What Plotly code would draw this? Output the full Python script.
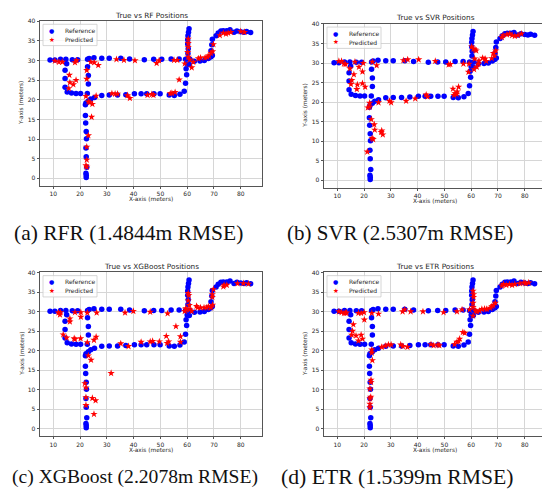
import plotly.graph_objects as go

# the page adds an 8 px body margin, so the figure is 8 px smaller and all
# pixel positions below are given in page pixels and shifted by OFF
OFF = 8
W, H = 550 - OFF, 497 - OFF

# ---------------- data ----------------
ref_x = [8.8, 10.6, 12.7, 14.7, 17.1, 19.1, 15.0, 14.4, 14.4, 14.4, 15.2, 16.8, 18.5, 20.2,
         22.8, 23.4, 22.8, 23.1, 23.1, 22.7, 22.0, 22.2, 22.0, 22.1, 22.3, 22.4, 22.2, 22.3,
         22.5, 22.2, 22.3, 22.3, 23.1, 24.0, 25.4, 28.1, 30.9, 34.0, 37.1, 40.3, 42.8, 44.9,
         47.6, 49.9, 53.3, 55.2, 57.3, 58.9, 59.4, 59.8, 59.6, 60.0, 25.2, 28.1, 30.9, 35.2,
         38.5, 44.0, 47.5, 50.5, 54.0, 57.0, 59.4, 60.7, 60.5, 60.3, 60.2, 60.2, 60.4, 60.3,
         61.0, 60.8, 62.7, 64.8, 66.4, 67.9, 68.8, 69.4, 68.9, 69.2, 69.4, 70.8, 71.6, 72.6,
         73.5, 74.8, 76.0, 77.5, 78.6, 80.0, 81.2, 82.2, 83.7]
ref_y = [30.1, 30.1, 30.3, 30.3, 30.2, 30.2, 29.2, 27.5, 25.4, 23.2, 22.0, 21.7, 21.6, 21.6,
         30.3, 30.5, 28.4, 26.2, 24.0, 21.6, 18.7, 19.2, 16.0, 14.1, 11.9, 10.1, 7.7, 5.5,
         2.8, 1.3, 0.8, 0.2, 19.7, 20.2, 20.6, 21.1, 21.2, 21.2, 21.3, 21.5, 21.5, 21.5,
         21.5, 21.5, 21.2, 21.1, 21.4, 22.2, 24.2, 26.4, 27.9, 29.1, 30.7, 30.6, 30.6, 30.6,
         30.4, 30.2, 30.3, 30.3, 30.4, 30.4, 30.3, 38.1, 37.2, 36.3, 35.3, 34.2, 33.0, 31.8,
         30.3, 29.0, 29.8, 29.9, 30.0, 30.5, 30.9, 31.3, 32.5, 34.0, 35.4, 36.3, 37.0, 37.5,
         37.6, 37.6, 37.8, 37.2, 37.5, 37.3, 37.2, 37.4, 37.1]

rf_x = [10.6, 12.1, 13.4, 18.1, 18.7, 16.0, 16.2, 15.8, 17.5, 18.5, 22.5, 22.5, 22.2, 24.0,
        25.3, 26.8, 23.1, 23.7, 24.6, 24.3, 23.1, 22.5, 22.5, 22.2, 22.5, 26.0, 31.9, 33.1,
        34.0, 37.7, 38.6, 45.2, 46.8, 47.4, 53.7, 54.3, 55.5, 57.0, 59.1, 33.6, 36.4, 40.5,
        48.6, 49.5, 55.1, 56.3, 60.4, 60.4, 60.4, 60.2, 60.4, 61.0, 61.7, 62.3, 64.2, 65.0,
        66.7, 67.5, 68.1, 68.9, 69.5, 69.8, 72.2, 73.5, 74.5, 75.3, 76.3, 80.0, 81.4]
rf_y = [29.9, 29.6, 29.6, 29.5, 30.0, 26.3, 24.4, 22.9, 23.9, 25.0, 27.5, 25.3, 20.9, 29.6,
        29.5, 28.8, 19.5, 19.3, 18.9, 15.6, 10.9, 8.0, 4.7, 3.3, 2.9, 21.0, 21.6, 21.5,
        21.5, 21.1, 20.4, 21.2, 21.4, 21.2, 21.6, 21.7, 21.9, 25.1, 29.2, 30.3, 30.1, 30.0,
        29.3, 30.0, 30.1, 30.1, 35.5, 34.4, 33.4, 32.1, 30.9, 30.2, 28.2, 29.6, 30.5, 30.7,
        30.7, 30.9, 31.2, 31.9, 32.3, 34.1, 36.4, 37.0, 36.8, 37.0, 37.2, 37.4, 37.2]

svr_x = [10.6, 11.6, 12.5, 13.1, 14.7, 16.2, 15.4, 15.1, 17.5, 17.3, 19.4, 20.4, 18.1, 19.4,
         16.6, 19.7, 23.1, 24.7, 21.4, 22.1, 22.1, 22.7, 23.8, 24.0, 23.0, 23.4, 21.2, 26.6,
         27.0, 26.4, 25.4, 29.5, 30.1, 35.7, 39.1, 43.2, 43.7, 53.2, 55.3, 54.0, 53.6, 54.6,
         54.8, 34.7, 36.3, 40.4, 46.6, 51.6, 52.2, 57.1, 59.0, 59.2, 60.2, 60.9, 61.5, 61.9,
         61.3, 61.1, 62.1, 62.7, 62.9, 64.3, 65.2, 65.6, 67.7, 68.3, 68.7, 69.2, 71.5, 71.9,
         73.4, 74.4, 75.3, 76.3, 77.5, 78.8]
svr_y = [30.5, 30.5, 29.8, 29.7, 28.6, 27.1, 25.6, 24.6, 24.5, 23.3, 24.8, 23.9, 29.0, 27.8,
         30.3, 30.0, 30.3, 29.4, 18.6, 19.8, 18.8, 15.6, 14.3, 12.9, 10.8, 10.5, 7.3, 12.7,
         11.7, 12.3, 19.9, 20.3, 19.9, 20.3, 20.9, 21.9, 21.4, 23.4, 23.9, 22.2, 21.8, 22.1,
         22.7, 30.7, 30.9, 30.9, 30.5, 29.6, 29.7, 29.8, 27.7, 29.8, 34.2, 33.6, 33.4, 33.2,
         31.1, 28.4, 29.0, 29.8, 30.6, 31.3, 31.1, 30.5, 31.2, 32.5, 31.9, 33.2, 36.6, 37.1,
         37.3, 37.5, 37.1, 36.9, 37.1, 37.5]

xgb_x = [11.9, 12.5, 12.7, 16.2, 16.2, 18.1, 20.3, 20.3, 13.7, 15.0, 18.1, 17.8, 20.2, 25.2,
         26.0, 22.7, 26.2, 22.7, 23.1, 24.1, 21.8, 22.2, 22.2, 24.6, 25.8, 22.2, 25.2, 31.6,
         35.2, 38.1, 42.8, 46.2, 47.1, 49.6, 52.5, 53.1, 52.2, 55.8, 57.5, 57.5, 36.8, 39.9,
         46.2, 52.7, 59.5, 59.5, 59.1, 60.4, 60.6, 60.4, 60.8, 61.0, 61.7, 63.5, 63.9, 65.0,
         66.3, 67.3, 67.9, 68.9, 69.5, 69.4, 69.4, 69.8, 73.5, 73.8, 74.8, 78.8, 81.0, 82.9]
xgb_y = [29.7, 29.2, 29.8, 28.2, 27.4, 29.8, 29.8, 28.6, 24.1, 23.3, 22.9, 23.1, 23.1, 22.7,
         23.5, 29.7, 29.7, 22.1, 18.7, 17.6, 11.6, 10.5, 8.0, 7.8, 7.2, 6.0, 3.7, 14.2,
         21.8, 21.1, 22.2, 22.3, 22.4, 22.3, 21.9, 22.3, 23.7, 26.2, 23.6, 22.2, 29.7, 30.1,
         29.9, 29.5, 30.5, 30.8, 30.1, 34.7, 34.2, 32.8, 31.6, 30.5, 30.1, 31.4, 31.0, 31.0,
         31.0, 31.0, 31.3, 31.0, 31.7, 33.7, 34.4, 35.7, 36.4, 36.8, 36.8, 37.2, 37.2, 37.1]

etr_x = [10.6, 11.6, 12.5, 13.5, 13.1, 17.9, 18.9, 20.0, 22.9, 25.4, 20.1, 16.0, 15.7, 15.4,
         17.0, 17.9, 18.9, 19.4, 22.6, 22.6, 22.2, 22.5, 22.2, 22.2, 22.2, 22.9, 22.9, 23.1,
         26.6, 27.9, 29.1, 30.1, 33.7, 34.5, 36.2, 45.0, 46.0, 47.6, 48.1, 53.8, 54.7, 55.3,
         55.7, 56.9, 57.6, 34.4, 35.2, 37.4, 42.0, 49.7, 54.7, 56.6, 59.4, 60.7, 60.9, 60.9,
         60.7, 60.7, 60.7, 61.6, 62.1, 63.1, 64.0, 65.0, 65.8, 67.1, 67.7, 68.3, 69.0, 71.5,
         72.1, 73.1, 74.3, 75.3, 76.3, 78.2, 79.7, 80.3, 81.5]
etr_y = [30.0, 29.8, 29.6, 29.7, 29.6, 29.6, 29.6, 29.8, 29.6, 29.4, 27.9, 26.7, 25.0, 24.0,
         23.8, 22.5, 24.0, 23.0, 12.5, 11.9, 10.2, 8.1, 7.7, 6.3, 5.4, 20.2, 19.4, 17.5,
         20.9, 21.2, 21.5, 21.5, 21.5, 21.1, 20.9, 21.6, 21.3, 21.5, 21.3, 21.6, 22.2, 22.4,
         23.0, 24.7, 24.5, 30.0, 30.5, 30.0, 30.0, 29.8, 30.0, 30.5, 30.5, 35.3, 34.4, 33.7,
         32.2, 31.1, 28.9, 30.2, 30.0, 30.2, 30.6, 30.7, 30.6, 30.9, 31.3, 31.6, 32.2, 36.6,
         37.0, 36.8, 37.0, 36.8, 37.0, 37.2, 37.4, 37.2, 37.4]

titles = ["True vs RF Positions", "True vs SVR Positions",
          "True vs XGBoost Positions", "True vs ETR Positions"]
captions = ["(a) RFR (1.4844m RMSE)", "(b) SVR (2.5307m RMSE)",
            "(c) XGBoost (2.2078m RMSE)", "(d) ETR (1.5399m RMSE)"]
legend_labels = ["Reference", "Predicted"]
x_ticks = [10, 20, 30, 40, 50, 60, 70, 80]
y_ticks = [0, 5, 10, 15, 20, 25, 30, 35, 40]
predicted = [(rf_x, rf_y), (svr_x, svr_y), (xgb_x, xgb_y), (etr_x, etr_y)]

# ---------------- layout geometry (page pixels) ----------------
X_RANGE = [5.04, 87.95]
Y_RANGE = [-1.9, 40.1]
# (left, right, top, bottom) of each plot area
panels = [(40, 262, 16.9, 183.2), (324, 546, 19.7, 185.2),
          (40, 262, 270.3, 435.5), (324, 546, 270.3, 435.5)]
title_y = [11.7, 13.7, 264.7, 264.7]
xlabel_y = [197, 199, 449.5, 449.5]
ylabel_x = [21.7, 305, 21.7, 305]
caption_pos = [(128, 231), (400, 231), (135, 477), (397, 477)]
caption_size = [21.5, 21, 19.6, 21.7]


def px(x):
    return (x - OFF) / W


def py(y):
    return 1 - (y - OFF) / H


fig = go.Figure()
annotations = []
shapes = []
layout_axes = {}

BLUE = "#0000ff"
RED = "#ff0000"
FONT = "DejaVu Sans"
TXT = "#262626"
SERIF = "Liberation Serif, Times New Roman, serif"

for i, (l, r, t, b) in enumerate(panels):
    n = "" if i == 0 else str(i + 1)
    xa, ya = "x" + n, "y" + n
    px_, py_ = predicted[i]
    fig.add_trace(go.Scatter(x=ref_x, y=ref_y, mode="markers", xaxis=xa, yaxis=ya,
                             marker=dict(color=BLUE, size=5.5, symbol="circle",
                                         line=dict(width=0)),
                             name=legend_labels[0], showlegend=False))
    fig.add_trace(go.Scatter(x=px_, y=py_, mode="markers", xaxis=xa, yaxis=ya,
                             marker=dict(color=RED, size=5.5, symbol="star",
                                         line=dict(width=0)),
                             name=legend_labels[1], showlegend=False))
    common = dict(showline=True, mirror=True, linecolor="#555555", linewidth=0.8,
                  showgrid=True, gridcolor="#d6d6d6", gridwidth=0.8, zeroline=False,
                  ticks="outside", ticklen=2.5, tickwidth=0.8, tickcolor="#555555",
                  tickfont=dict(family=FONT, size=6, color=TXT))
    layout_axes["xaxis" + n] = dict(domain=[px(l), px(r)], range=X_RANGE,
                                    tickvals=x_ticks, anchor=ya, **common)
    layout_axes["yaxis" + n] = dict(domain=[py(b), py(t)], range=Y_RANGE,
                                    tickvals=y_ticks, anchor=xa, **common)
    cx = (l + r) / 2
    cy = (t + b) / 2
    annotations.append(dict(text=titles[i], x=px(cx), y=py(title_y[i]), xref="paper",
                            yref="paper", showarrow=False, xanchor="center",
                            yanchor="middle", font=dict(family=FONT, size=7.3, color=TXT)))
    annotations.append(dict(text="X-axis (meters)", x=px(cx), y=py(xlabel_y[i]),
                            xref="paper", yref="paper", showarrow=False,
                            xanchor="center", yanchor="middle",
                            font=dict(family=FONT, size=5.8, color=TXT)))
    annotations.append(dict(text="Y-axis (meters)", x=px(ylabel_x[i]), y=py(cy),
                            xref="paper", yref="paper", showarrow=False, textangle=-90,
                            xanchor="center", yanchor="middle",
                            font=dict(family=FONT, size=5.8, color=TXT)))
    cxp, cyp = caption_pos[i]
    annotations.append(dict(text=captions[i], x=px(cxp), y=py(cyp), xref="paper",
                            yref="paper", showarrow=False, xanchor="center",
                            yanchor="middle",
                            font=dict(family=SERIF, size=caption_size[i], color="#111111")))
    # legend box (drawn manually to get the compact matplotlib-like size)
    lx0, ly0 = l + 3, t + 3.5
    lx1, ly1 = lx0 + 54, ly0 + 21.5
    shapes.append(dict(type="rect", xref="paper", yref="paper",
                       x0=px(lx0), x1=px(lx1), y0=py(ly1), y1=py(ly0),
                       line=dict(color="#cccccc", width=0.8),
                       fillcolor="rgba(255,255,255,0.8)", layer="above"))
    for k, (sym, col, lab) in enumerate([("●", BLUE, legend_labels[0]),
                                          ("★", RED, legend_labels[1])]):
        yy = ly0 + 6.2 + k * 9.3
        annotations.append(dict(text=sym, x=px(lx0 + 8.7), y=py(yy), xref="paper",
                                yref="paper", showarrow=False, xanchor="center",
                                yanchor="middle",
                                font=dict(family=FONT, size=6 if k == 0 else 6.5, color=col)))
        annotations.append(dict(text=lab, x=px(lx0 + 19.5), y=py(yy), xref="paper",
                                yref="paper", showarrow=False, xanchor="left",
                                yanchor="middle", font=dict(family=FONT, size=6, color=TXT)))

fig.update_layout(width=W, height=H, margin=dict(l=0, r=0, t=0, b=0),
                  paper_bgcolor="white", plot_bgcolor="white", showlegend=False,
                  annotations=annotations, shapes=shapes, **layout_axes)

fig.write_html("out.html")
